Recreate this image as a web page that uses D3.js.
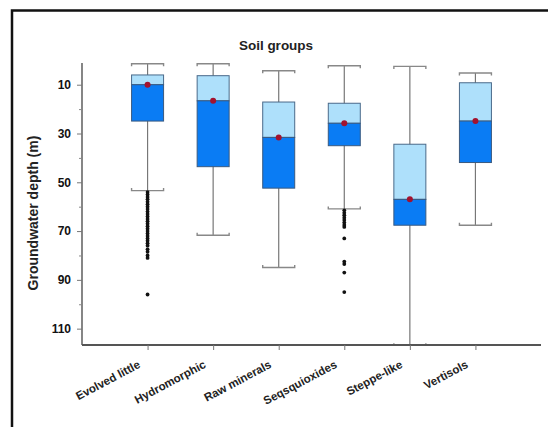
<!DOCTYPE html>
<html>
<head>
<meta charset="utf-8">
<script src="https://cdn.jsdelivr.net/npm/d3@7"></script>
<style>
  html, body { margin: 0; padding: 0; background: #fff; }
  svg { display: block; font-family: "Liberation Sans", Arial, sans-serif; }
</style>
</head>
<body>
<svg id="chart" width="548" height="427"></svg>
<script>
// Soil groups and groundwater depth summaries (m)
const categories = ["Evolved little", "Hydromorphic", "Raw minerals", "Seqsquioxides", "Steppe-like", "Vertisols"];
const whiskerLow  = [1.4, 1.4, 4.3, 2.2, 2.5, 5.2];
const q1Values    = [6.0, 6.3, 17.1, 17.6, 34.4, 9.2];
const medianValues = [10.0, 16.6, 31.6, 25.8, 57.0, 24.9];
const q3Values    = [24.9, 43.6, 52.4, 35.0, 67.6, 41.9];
const whiskerHigh = [53.4, 71.7, 84.9, 60.9, 117, 67.6];
const outliers = [
  [54, 55, 56, 57, 58, 59, 60, 61, 62, 63, 64, 65, 66, 67, 68, 69, 70, 71, 72, 73, 74, 75, 76, 77.5, 78.5, 80, 81, 96],
  [],
  [],
  [61.5, 62.5, 63.5, 64.5, 65.5, 66.5, 67.5, 68.3, 73, 82.5, 83.5, 87, 95],
  [],
  []
];
const yTicks = [10, 30, 50, 70, 90, 110];
const yMinorTicks = [20, 40, 60, 80, 100];

const svg = d3.select("#chart");

// outer frame
svg.append("rect")
  .attr("x", 12).attr("y", 10.5)
  .attr("width", 600).attr("height", 500)
  .attr("fill", "none").attr("stroke", "#111").attr("stroke-width", 2.5);

const plotLeft = 82, plotRight = 541, plotTop = 63, plotBottom = 345;

const x = d3.scalePoint().domain(categories).range([plotLeft, plotRight]).padding(1);
const y = d3.scaleLinear().domain([1.1, 116.7]).range([plotTop, plotBottom]);

const boxW = 32;
const data = categories.map((c, i) => ({
  c, lo: whiskerLow[i], q1: q1Values[i], med: medianValues[i], q3: q3Values[i], hi: whiskerHigh[i], out: outliers[i]
}));

svg.append("defs").append("clipPath").attr("id", "clip")
  .append("rect").attr("x", plotLeft).attr("y", 0).attr("width", plotRight - plotLeft).attr("height", plotBottom);

const g = svg.append("g").attr("clip-path", "url(#clip)");

const groups = g.selectAll("g.box").data(data).join("g").attr("class", "box");

// whisker stems
groups.append("line")
  .attr("x1", d => x(d.c)).attr("x2", d => x(d.c))
  .attr("y1", d => y(d.lo)).attr("y2", d => y(d.hi))
  .attr("stroke", "#777").attr("stroke-width", 1.2);

// whisker caps with small hooks
const hook = 2.5;
groups.append("path")
  .attr("d", d => {
    const cx = x(d.c), yy = y(d.lo);
    return `M${cx - boxW / 2},${yy + hook}V${yy}H${cx + boxW / 2}V${yy + hook}`;
  })
  .attr("fill", "none").attr("stroke", "#888").attr("stroke-width", 1.4);
groups.append("path")
  .attr("d", d => {
    const cx = x(d.c), yy = y(d.hi);
    return `M${cx - boxW / 2},${yy - hook}V${yy}H${cx + boxW / 2}V${yy - hook}`;
  })
  .attr("fill", "none").attr("stroke", "#888").attr("stroke-width", 1.4);

// upper part of box (Q1 to median)
groups.append("rect")
  .attr("x", d => x(d.c) - boxW / 2).attr("width", boxW)
  .attr("y", d => y(d.q1)).attr("height", d => y(d.med) - y(d.q1))
  .attr("fill", "#aee0fb").attr("stroke", "#4a6a8a").attr("stroke-width", 1);

// lower part of box (median to Q3)
groups.append("rect")
  .attr("x", d => x(d.c) - boxW / 2).attr("width", boxW)
  .attr("y", d => y(d.med)).attr("height", d => y(d.q3) - y(d.med))
  .attr("fill", "#0a7cf4").attr("stroke", "#3a5a80").attr("stroke-width", 1);

// outliers
groups.selectAll("circle.out").data(d => d.out.map(v => ({ c: d.c, v }))).join("circle")
  .attr("class", "out")
  .attr("cx", d => x(d.c)).attr("cy", d => y(d.v)).attr("r", 1.9)
  .attr("fill", "#111");

// median markers
groups.append("circle")
  .attr("cx", d => x(d.c)).attr("cy", d => y(d.med)).attr("r", 3)
  .attr("fill", "#a3122e");

// y axis
const yAxis = svg.append("g").attr("transform", `translate(${plotLeft},0)`)
  .call(d3.axisLeft(y).tickValues(yTicks).tickSize(5).tickPadding(6));
svg.append("g").attr("transform", `translate(${plotLeft},0)`)
  .call(d3.axisLeft(y).tickValues(yMinorTicks).tickSize(3).tickFormat(""))
  .call(s => s.select(".domain").remove())
  .selectAll("line").attr("stroke", "#888");
yAxis.select(".domain").attr("d", `M0,${plotTop}V${plotBottom}`).attr("stroke", "#444").attr("stroke-width", 1.3);
yAxis.selectAll(".tick line").attr("stroke", "#777");
yAxis.selectAll("text").attr("font-size", 12).attr("font-weight", "bold").attr("fill", "#111")
  .attr("font-family", "Liberation Sans, Arial, sans-serif");

// x axis
const xAxis = svg.append("g").attr("transform", `translate(0,${plotBottom})`)
  .call(d3.axisBottom(x).tickSize(5).tickSizeOuter(0));
xAxis.select(".domain").attr("d", `M${plotLeft},0H${plotRight}`).attr("stroke", "#555").attr("stroke-width", 2);
xAxis.selectAll(".tick line").attr("stroke", "#777");
xAxis.selectAll("text")
  .attr("font-size", 11.5).attr("font-weight", "bold").attr("fill", "#222")
  .attr("font-family", "Liberation Sans, Arial, sans-serif")
  .attr("text-anchor", "end")
  .attr("dy", 0).attr("y", 0)
  .attr("transform", "translate(-7,22) rotate(-28)");

// title
svg.append("text")
  .attr("x", 276).attr("y", 50)
  .attr("text-anchor", "middle")
  .attr("font-size", 13.5).attr("font-weight", "bold").attr("fill", "#222")
  .text("Soil groups");

// y-axis title
svg.append("text")
  .attr("transform", "translate(38,213) rotate(-90)")
  .attr("text-anchor", "middle")
  .attr("font-size", 14).attr("font-weight", "bold").attr("fill", "#222")
  .text("Groundwater depth (m)");
</script>
</body>
</html>
